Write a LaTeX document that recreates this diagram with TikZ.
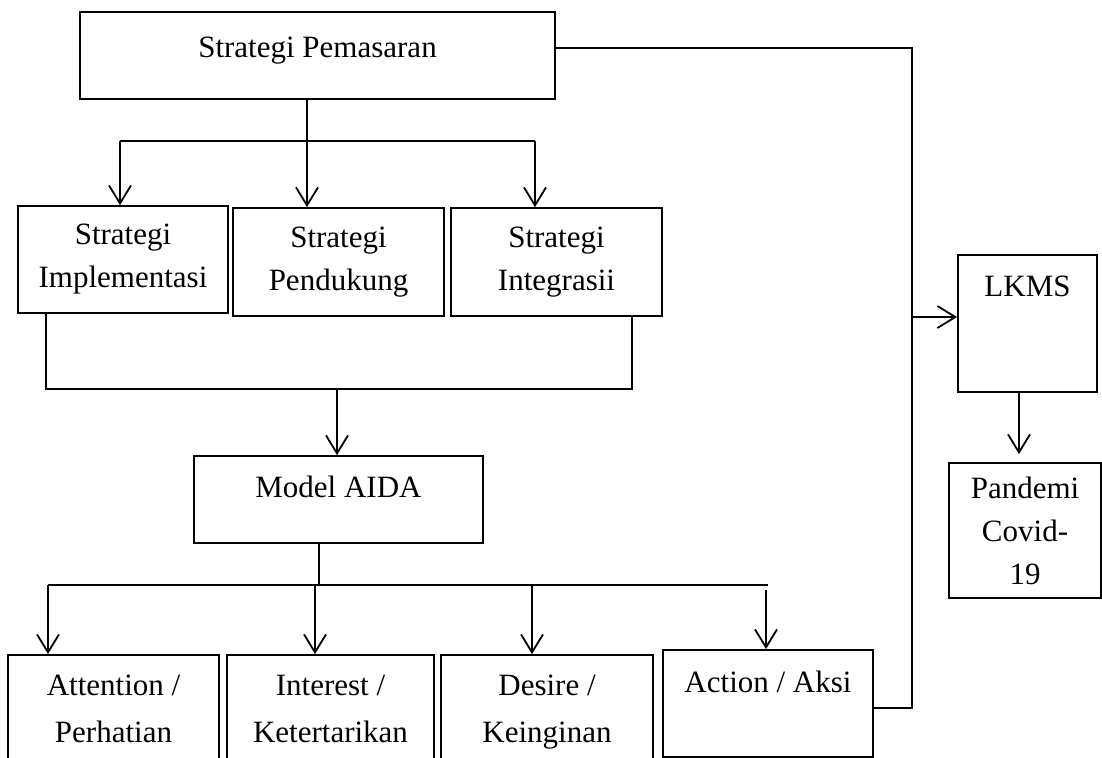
\documentclass[tikz,border=0pt]{standalone}
\usepackage{fontspec}
\setmainfont{Liberation Serif}
\usepackage{tikz}
\usetikzlibrary{arrows.meta}
\usetikzlibrary{calc}

\begin{document}
\begin{tikzpicture}[x=1pt, y=-1pt,
        box/.style={draw=black, line width=0.9pt, inner sep=0pt, align=center,
                    font=\fontsize{15.5}{21.5}\selectfont},
        lowbox/.style={box, font=\fontsize{15.5}{23.5}\selectfont},
        link/.style={draw=black, line width=0.9pt},
        >={Straight Barb[length=9pt, width=11pt]}]

        \pgfmathsetmacro{\fy}{70.5}
        \pgfmathsetmacro{\my}{194.5}
        \pgfmathsetmacro{\by}{292.5}
        \pgfmathsetmacro{\rx}{456}

        \clip (0, 0) rectangle (551, 379);

        \node[box, minimum width=237.5pt, text height=23pt, text depth=20.5pt] (pemasaran) at (158.75, 27.75) {Strategi Pemasaran};

        \node[box, minimum width=105pt, minimum height=53.5pt] (implementasi) at (61.5, 129.75) {Strategi\\Implementasi};
        \node[box, minimum width=105.5pt, minimum height=54pt] (pendukung) at (169.25, 131) {Strategi\\Pendukung};
        \node[box, minimum width=105.5pt, minimum height=54pt] (integrasi) at (278.25, 131) {Strategi\\Integrasii};

        \node[box, minimum width=144.5pt, text height=20.5pt, text depth=23pt] (aida) at (169.25, 249.75) {Model AIDA};

        \node[lowbox, minimum width=105.5pt, minimum height=53.5pt] (attention) at (56.75, 354.25) {Attention /\\Perhatian};
        \node[lowbox, minimum width=103.5pt, minimum height=53.5pt] (interest) at (165.25, 354.25) {Interest /\\Ketertarikan};
        \node[lowbox, minimum width=106pt, minimum height=53.5pt] (desire) at (273.5, 354.25) {Desire /\\\raisebox{0pt}[\height][0pt]{Keinginan}};
        \node[box, minimum width=105pt, text height=21pt, text depth=32.5pt] (action) at (384, 351.75) {Action / Aksi};

        \node[box, minimum width=69.5pt, text height=21pt, text depth=47.5pt] (lkms) at (513.75, 161.75) {LKMS};
        \node[box, minimum width=76pt, minimum height=67.5pt, font=\fontsize{15.5}{21.5}\selectfont] (pandemi) at (512.5, 265.25) {Pandemi\\Covid-\\19};

        \coordinate (split) at (153.5, \fy);
        \coordinate (forkl) at (60, \fy);
        \coordinate (forkr) at (267.5, \fy);

        \coordinate (mergel) at (23, \my);
        \coordinate (merger) at (316, \my);
        \coordinate (mergem) at (168.5, \my);

        \coordinate (stem) at (159.5, \by);
        \coordinate (barl) at (24, \by);
        \coordinate (barr) at (384, \by);
        \coordinate (drop2) at (157.5, \by);
        \coordinate (drop3) at (266, \by);
        \coordinate (drop4) at (383, 295);

        \coordinate (rtop) at (\rx, 24);
        \coordinate (rmid) at (\rx, 158.5);
        \coordinate (rbot) at (\rx, 354);
        \coordinate (lkmsdown) at (509.5, 0);

        \draw[link, ->] (pemasaran.south -| split) -- (pendukung.north -| split);
        \draw[link] (forkl) -- (forkr);
        \draw[link, ->] (forkl) -- (forkl |- implementasi.north);
        \draw[link, ->] (forkr) -- (forkr |- integrasi.north);

        \draw[link] (mergel |- implementasi.south) -- (mergel) -- (merger) -- (merger |- integrasi.south);
        \draw[link, ->] (mergem) -- (mergem |- aida.north);

        \draw[link] (stem |- aida.south) -- (stem);
        \draw[link] (barl) -- (barr);
        \draw[link, ->] (barl) -- (barl |- attention.north);
        \draw[link, ->] (drop2) -- (drop2 |- interest.north);
        \draw[link, ->] (drop3) -- (drop3 |- desire.north);
        \draw[link, ->] (drop4) -- (drop4 |- action.north);

        \draw[link] (pemasaran.east |- rtop) -- (rtop) -- (rbot) -- (rbot -| action.east);
        \draw[link, ->] (rmid) -- (rmid -| lkms.west);
        \draw[link, ->, shorten >=4pt] (lkms.south -| lkmsdown) -- (pandemi.north -| lkmsdown);

    \end{tikzpicture}
\end{document}
